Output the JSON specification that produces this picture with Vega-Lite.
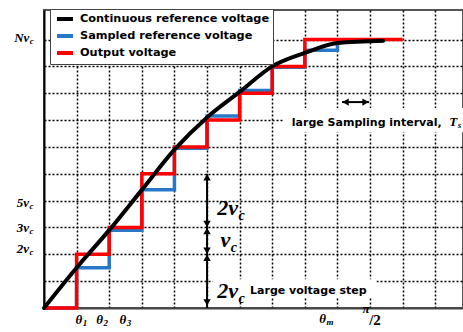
{
  "$schema": "https://vega.github.io/schema/vega-lite/v6.json",
  "width": 419,
  "height": 298,
  "autosize": {"type": "none"},
  "padding": {"left": 44, "top": 10, "right": 0, "bottom": 24},
  "background": "white",
  "config": {
    "view": {"stroke": "#555", "strokeWidth": 2},
    "axis": {"labels": false, "ticks": false, "title": null, "grid": true, "gridColor": "black", "gridDash": [2, 2], "gridWidth": 1.5, "gridOpacity": 1, "domainWidth": 2}
  },
  "datasets": {
    "black": [{"x":0,"y":0},{"x":1,"y":1.5},{"x":2,"y":2.9},{"x":3,"y":4.4},{"x":4,"y":5.9},{"x":5,"y":7.1},{"x":6,"y":8.05},{"x":7,"y":9.0},{"x":8,"y":9.5},{"x":9,"y":9.87},{"x":10.4,"y":9.95}],
    "blue": [{"x":0,"y":0},{"x":1,"y":1.5},{"x":2,"y":2.9},{"x":3,"y":4.4},{"x":4,"y":5.95},{"x":5,"y":7.15},{"x":6,"y":8.1},{"x":7,"y":8.97},{"x":8,"y":9.6},{"x":9,"y":9.95},{"x":10.4,"y":9.95}],
    "red": [{"x":0,"y":0},{"x":1,"y":2},{"x":2,"y":3},{"x":3,"y":5},{"x":4,"y":6},{"x":5,"y":7},{"x":6,"y":8},{"x":7,"y":9},{"x":8,"y":10},{"x":11,"y":10}],
    "boxes": [{"x":5.17,"x2":10.2,"y":0.4,"y2":1.07},{"x":7.33,"x2":12.85,"y":6.55,"y2":7.45}],
    "ylab": [{"t":"Nv","s":"c","x":-0.45,"y":9.91},{"t":"5v","s":"c","x":-0.46,"y":3.75},{"t":"3v","s":"c","x":-0.46,"y":2.82},{"t":"2v","s":"c","x":-0.46,"y":2.04}],
    "thetas": [{"t":"θ","s":"1","x":1.17,"y":-0.6},{"t":"θ","s":"2","x":1.81,"y":-0.6},{"t":"θ","s":"3","x":2.52,"y":-0.6},{"t":"θ","s":"m","x":8.65,"y":-0.55}],
    "pi": [{"t":"π","x":9.88,"y":-0.2}],
    "half": [{"t":"/2","x":10.15,"y":-0.65}],
    "big": [{"t":"2v","s":"c","x":5.95,"y":3.46},{"t":"v","s":"c","x":5.71,"y":2.26},{"t":"2v","s":"c","x":5.95,"y":0.39}],
    "notes": [{"t":"Large voltage step","x":6.32,"y":0.53},{"t":"large Sampling interval,","x":7.6,"y":6.77}],
    "ts": [{"t":"T","s":"s","x":12.67,"y":6.77}],
    "vrule": [{"x":5,"y":0,"y2":5}],
    "hrule": [{"x":9.14,"x2":9.97,"y":7.67}],
    "uph": [{"x":5,"y":5},{"x":5,"y":3},{"x":5,"y":2}],
    "downh": [{"x":5,"y":3},{"x":5,"y":2},{"x":5,"y":0.08}],
    "lefth": [{"x":9.14,"y":7.67}],
    "righth": [{"x":9.97,"y":7.67}]
  },
  "encoding": {
    "x": {"field": "x", "type": "quantitative", "scale": {"domain": [0, 12.85], "nice": false, "zero": false}, "axis": {"values": [1,2,3,4,5,6,7,8,9,10,11,12], "domainColor": "#444"}},
    "y": {"field": "y", "type": "quantitative", "scale": {"domain": [0, 11.1], "nice": false, "zero": false}, "axis": {"values": [1,2,3,4,5,6,7,8,9,10], "domainColor": "black"}}
  },
  "layer": [
    {"data": {"name": "boxes"}, "mark": {"type": "rect", "fill": "white"}, "encoding": {"x2": {"field": "x2"}, "y2": {"field": "y2"}}},
    {"data": {"name": "black"}, "mark": {"type": "line", "strokeWidth": 0, "opacity": 0},
      "encoding": {"color": {"datum": "Continuous reference voltage", "scale": {"domain": ["Continuous reference voltage", "Sampled reference voltage", "Output voltage"], "range": ["black", "#2878c8", "#ff0000"]},
        "legend": {"orient": "none", "legendX": 6, "legendY": -1, "title": null, "fillColor": "white", "strokeColor": "#444", "padding": 3, "symbolType": "M-1.6,0H1.6", "symbolStrokeWidth": 4, "symbolSize": 100, "symbolOffset": 5, "symbolOpacity": 1, "labelFont": "DejaVu Sans", "labelFontSize": 11.3, "labelFontWeight": "bold", "labelColor": "black", "labelLimit": 400, "rowPadding": 1, "labelOffset": 8}}}},
    {"data": {"name": "blue"}, "mark": {"type": "line", "interpolate": "step-after", "strokeWidth": 3.5}, "encoding": {"color": {"datum": "Sampled reference voltage"}}},
    {"data": {"name": "red"}, "mark": {"type": "line", "interpolate": "step-after", "strokeWidth": 3.5}, "encoding": {"color": {"datum": "Output voltage"}}},
    {"data": {"name": "black"}, "mark": {"type": "line", "interpolate": "monotone", "strokeWidth": 4, "strokeCap": "round"}, "encoding": {"color": {"datum": "Continuous reference voltage"}}},
    {"data": {"name": "vrule"}, "mark": {"type": "rule", "color": "black", "strokeWidth": 2}, "encoding": {"y2": {"field": "y2"}}},
    {"data": {"name": "hrule"}, "mark": {"type": "rule", "color": "black", "strokeWidth": 2}, "encoding": {"x2": {"field": "x2"}}},
    {"data": {"name": "uph"}, "mark": {"type": "point", "shape": "triangle-up", "filled": true, "color": "black", "opacity": 1, "size": 55, "yOffset": 3.5}, "encoding": {}},
    {"data": {"name": "downh"}, "mark": {"type": "point", "shape": "triangle-down", "filled": true, "color": "black", "opacity": 1, "size": 55, "yOffset": -3.5}, "encoding": {}},
    {"data": {"name": "lefth"}, "mark": {"type": "point", "shape": "triangle-left", "filled": true, "color": "black", "opacity": 1, "size": 55, "xOffset": 3.5}, "encoding": {}},
    {"data": {"name": "righth"}, "mark": {"type": "point", "shape": "triangle-right", "filled": true, "color": "black", "opacity": 1, "size": 55, "xOffset": -3.5}, "encoding": {}},
    {"data": {"name": "ylab"}, "mark": {"type": "text", "align": "right", "baseline": "alphabetic", "font": "Liberation Serif", "fontStyle": "italic", "fontWeight": "bold", "fontSize": 13, "color": "black"}, "encoding": {"text": {"field": "t"}}},
    {"data": {"name": "ylab"}, "mark": {"type": "text", "align": "left", "baseline": "alphabetic", "font": "Liberation Serif", "fontStyle": "italic", "fontWeight": "bold", "fontSize": 9, "dy": 2, "dx": 0.5, "color": "black"}, "encoding": {"text": {"field": "s"}}},
    {"data": {"name": "thetas"}, "mark": {"type": "text", "align": "right", "baseline": "alphabetic", "font": "Liberation Serif", "fontStyle": "italic", "fontWeight": "bold", "fontSize": 13, "color": "black"}, "encoding": {"text": {"field": "t"}}},
    {"data": {"name": "thetas"}, "mark": {"type": "text", "align": "left", "baseline": "alphabetic", "font": "Liberation Serif", "fontStyle": "italic", "fontWeight": "bold", "fontSize": 9, "dy": 2, "dx": 0.5, "color": "black"}, "encoding": {"text": {"field": "s"}}},
    {"data": {"name": "pi"}, "mark": {"type": "text", "align": "center", "baseline": "alphabetic", "font": "Liberation Serif", "fontStyle": "italic", "fontWeight": "bold", "fontSize": 13, "color": "black"}, "encoding": {"text": {"field": "t"}}},
    {"data": {"name": "half"}, "mark": {"type": "text", "align": "center", "baseline": "alphabetic", "font": "Liberation Serif", "fontWeight": "bold", "fontSize": 15, "color": "black"}, "encoding": {"text": {"field": "t"}}},
    {"data": {"name": "big"}, "mark": {"type": "text", "align": "right", "baseline": "alphabetic", "font": "Liberation Serif", "fontStyle": "italic", "fontWeight": "bold", "fontSize": 22, "color": "black"}, "encoding": {"text": {"field": "t"}}},
    {"data": {"name": "big"}, "mark": {"type": "text", "align": "left", "baseline": "alphabetic", "font": "Liberation Serif", "fontStyle": "italic", "fontWeight": "bold", "fontSize": 14, "dy": 5, "dx": 0.5, "color": "black"}, "encoding": {"text": {"field": "s"}}},
    {"data": {"name": "notes"}, "mark": {"type": "text", "align": "left", "baseline": "alphabetic", "font": "DejaVu Sans", "fontWeight": "bold", "fontSize": 11, "color": "black"}, "encoding": {"text": {"field": "t"}}},
    {"data": {"name": "ts"}, "mark": {"type": "text", "align": "right", "baseline": "alphabetic", "font": "Liberation Serif", "fontStyle": "italic", "fontWeight": "bold", "fontSize": 13, "color": "black"}, "encoding": {"text": {"field": "t"}}},
    {"data": {"name": "ts"}, "mark": {"type": "text", "align": "left", "baseline": "alphabetic", "font": "Liberation Serif", "fontStyle": "italic", "fontWeight": "bold", "fontSize": 9, "dy": 2, "dx": 0.5, "color": "black"}, "encoding": {"text": {"field": "s"}}}
  ]
}
